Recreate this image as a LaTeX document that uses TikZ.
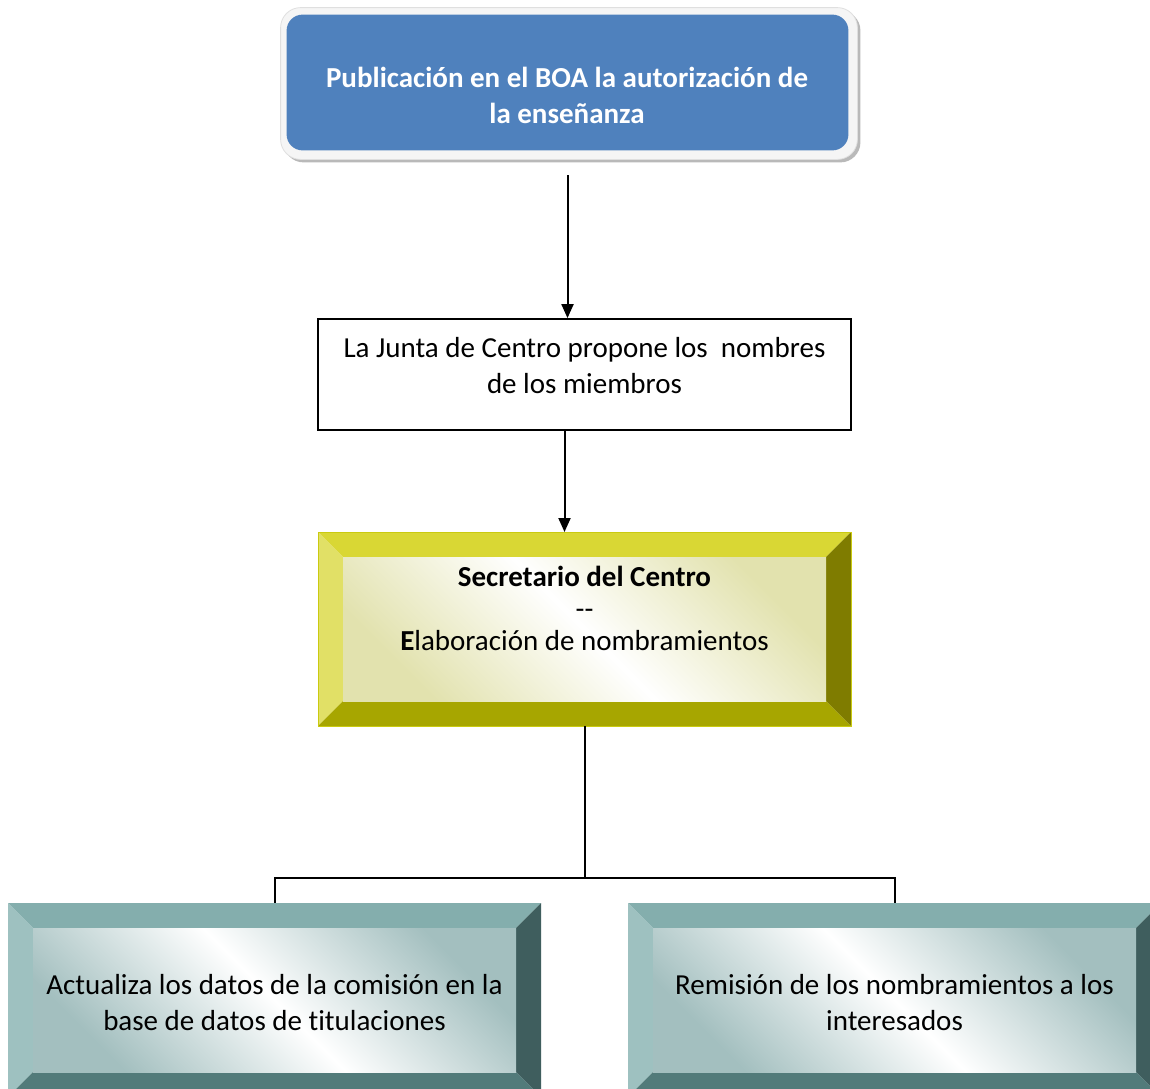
\documentclass[tikz,border=0pt]{standalone}
\usepackage{fontspec}
\setmainfont{Carlito}[Ligatures={NoCommon}]
\usetikzlibrary{calc,arrows.meta}
\definecolor{boxblue}{HTML}{4F81BD}
\definecolor{ytop}{HTML}{D9D734}
\definecolor{yleft}{HTML}{E1E066}
\definecolor{yright}{HTML}{7F7C00}
\definecolor{ybottom}{HTML}{A7A600}
\definecolor{yface}{HTML}{E2E2AE}
\definecolor{yline}{HTML}{CACA10}
\definecolor{ttop}{HTML}{84AEAD}
\definecolor{tleft}{HTML}{9EC1C0}
\definecolor{tright}{HTML}{3F5E5E}
\definecolor{tbottom}{HTML}{527B7A}
\definecolor{tface}{HTML}{A3BFBF}
\newcommand{\bevelbox}[6]{%
	\fill [#2] (#1.north west) -- (#1.north east) -- ($(#1.north east)+(-25,25)$) -- ($(#1.north west)+(25,25)$) -- cycle;
	\fill [#3] (#1.north west) -- ($(#1.north west)+(25,25)$) -- ($(#1.south west)+(25,-25)$) -- (#1.south west) -- cycle;
	\fill [#4] (#1.north east) -- (#1.south east) -- ($(#1.south east)+(-25,-25)$) -- ($(#1.north east)+(-25,25)$) -- cycle;
	\fill [#5] (#1.south west) -- ($(#1.south west)+(25,-25)$) -- ($(#1.south east)+(-25,-25)$) -- (#1.south east) -- cycle;
	\shade [top color=#6, bottom color=#6, middle color=white, shading angle=-45] ($(#1.north west)+(25,25)$) rectangle ($(#1.south east)+(-25,-25)$);
}
\tikzset{
	boxtext/.style={align=center, inner sep=0pt, font=\fontsize{14.5}{18}\selectfont},
	bluebox/.style={rectangle, rounded corners=8pt, fill=boxblue, minimum width=280.5pt, minimum height=67.5pt, inner sep=0pt},
	plainbox/.style={rectangle, draw=black, line width=0.9pt, minimum width=266.5pt, minimum height=55.5pt, inner sep=0pt},
	bevel/.style={rectangle, minimum width=266.5pt, minimum height=97pt, inner sep=0pt, outer sep=0pt},
	flow/.style={black, line width=1pt},
	flowarrow/.style={flow, -{Triangle[length=7pt,width=6pt]}}
}
\begin{document}
\begin{tikzpicture}[x=0.5pt,y=-0.5pt]
		\useasboundingbox (0,0) rectangle (1150,1088);
		\clip (0,0) rectangle (1150,1088);
		\fill [white] (0,0) rectangle (1150,1088);
		\node [bluebox] (pub) at (567.5,82.5) {};
		\fill [gray!55, rounded corners=10pt] ($(pub.north west)+(-3,-4)$) rectangle ($(pub.south east)+(12,12)$);
		\fill [gray!8, draw=gray!25, rounded corners=10pt] ($(pub.north west)+(-6,-7)$) rectangle ($(pub.south east)+(9,9)$);
		\fill [boxblue, rounded corners=8pt] (pub.north west) rectangle (pub.south east);
		\node [boxtext, text=white, font=\fontsize{14.5}{18}\selectfont\bfseries] (pubtext) at (567,95.5) {Publicación en el BOA la autorización de\\la enseñanza};
		\node [plainbox] (junta) at (584.5,374.5) {};
		\node [boxtext] (juntatext) at (584.5,366) {La Junta de Centro propone los\ \ nombres\\de los miembros};
		\node [bevel] (secr) at (584.5,629) {};
		\bevelbox{secr}{ytop}{yleft}{yright}{ybottom}{yface}
		\draw [yline, line width=0.5pt] (secr.north west) rectangle (secr.south east);
		\node [boxtext, font=\fontsize{14.5}{16}\selectfont] (secrtext) at (584.5,608) {\textbf{Secretario del Centro}\\-{}-\\\textbf{E}laboración de nombramientos};
		\node [bevel] (act) at (274.5,1000) {};
		\bevelbox{act}{ttop}{tleft}{tright}{tbottom}{tface}
		\node [boxtext] (acttext) at (274.5,1003) {Actualiza los datos de la comisión en la\\base de datos de titulaciones};
		\node [bevel] (rem) at (894.5,1000) {};
		\bevelbox{rem}{ttop}{tleft}{tright}{tbottom}{tface}
		\node [boxtext] (remtext) at (894.5,1003) {Remisión de los nombramientos a los\\interesados};
		\coordinate (split) at (584.5,878);
		\draw [flowarrow, shorten <=12.5pt] (pub.south) -- (pub.south |- junta.north);
		\draw [flowarrow] ([xshift=-10pt]junta.south) -- ([xshift=-10pt]junta.south |- secr.north);
		\draw [flow] (secr.south) -- (split) -| (act.north);
		\draw [flow] (split) -| (rem.north);
	\end{tikzpicture}
\end{document}
